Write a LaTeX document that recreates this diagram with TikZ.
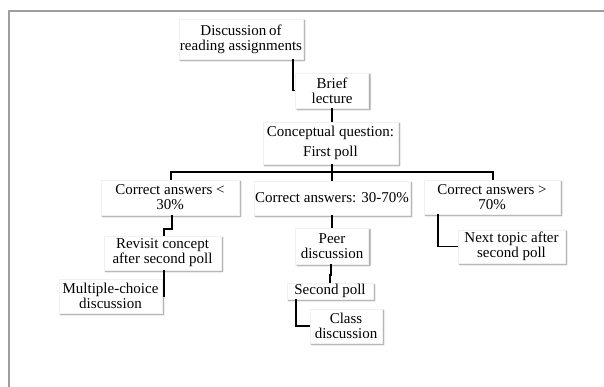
\documentclass[tikz,border=0pt]{standalone}
\usepackage{fontspec}
\setmainfont{Liberation Serif}
\usetikzlibrary{shadows.blur}
\begin{document}
\begin{tikzpicture}[x=1pt,y=-1pt,
  box/.style={fill=white, draw=black!6, align=center, inner sep=0pt,
    font=\fontsize{15}{15}\selectfont,
    blur shadow={shadow xshift=1.5pt, shadow yshift=-1.5pt, shadow blur radius=1.5pt, shadow opacity=45}},
  link/.style={draw=black, line width=1.5pt},
  frame/.style={draw=black!38, line width=1.5pt}]
\useasboundingbox (0,0) rectangle (604,387);
\draw[frame] (9,387) -- (9,11) -- (604,11);
\node[box, minimum width=124, minimum height=40] (disc) at (241,39) {Discussion\hspace{-1pt} of\\reading assignments};
\node[box, minimum width=73, minimum height=35] (brief) at (332,90.5) {Brief\\lecture};
\node[box, minimum width=135, minimum height=42] (concept) at (330.5,143) {Conceptual question:\\[5pt]First poll};
\node[box, minimum width=138, minimum height=35] (lt) at (170,197.5) {Correct answers {<}\\30\%};
\node[box, minimum width=156, minimum height=34] (mid) at (332,198) {Correct answers: 30-70\%};
\node[box, minimum width=136, minimum height=34] (gt) at (492,197) {Correct answers {>}\\70\%};
\node[box, minimum width=117, minimum height=34] (revisit) at (162.5,253) {Revisit concept\\after second poll};
\node[box, minimum width=73, minimum height=36] (peer) at (332,246) {Peer\\discussion};
\node[box, minimum width=107, minimum height=33] (next) at (511.5,246.5) {Next topic after\\second poll};
\node[box, minimum width=103, minimum height=34] (mc) at (110.5,296) {Multiple-choice\\discussion};
\node[box, minimum width=86, minimum height=16] (second) at (330,291) {Second poll};
\node[box, minimum width=72, minimum height=34] (class) at (346,326) {Class\\discussion};
\coordinate (bar) at (332,172);
\draw[link] ([xshift=52pt]disc.south) |- (brief.west);
\draw[link] (brief.south) -- (brief.south |- concept.north);
\draw[link] ([xshift=1.5pt]concept.south) -- (bar);
\draw[link] ([xshift=1pt]lt.north) |- (bar) -| ([xshift=1pt]gt.north);
\draw[link] (mid.north) -- (mid.north |- bar);
\draw[link] ([xshift=2pt]lt.south) -- ++(0,14) -| ([xshift=1.5pt]revisit.north);
\draw[link] ([xshift=1.5pt]revisit.south) |- ([xshift=2pt]mc.east);
\draw[link] (mid.south) -- (peer.north);
\draw[link] ([xshift=-1pt]peer.south) -- ++(0,11) -| (second.north);
\draw[link] ([xshift=-34pt]second.south) |- (class.west);
\draw[link] ([xshift=-54pt]gt.south) |- (next.west);
\end{tikzpicture}
\end{document}
